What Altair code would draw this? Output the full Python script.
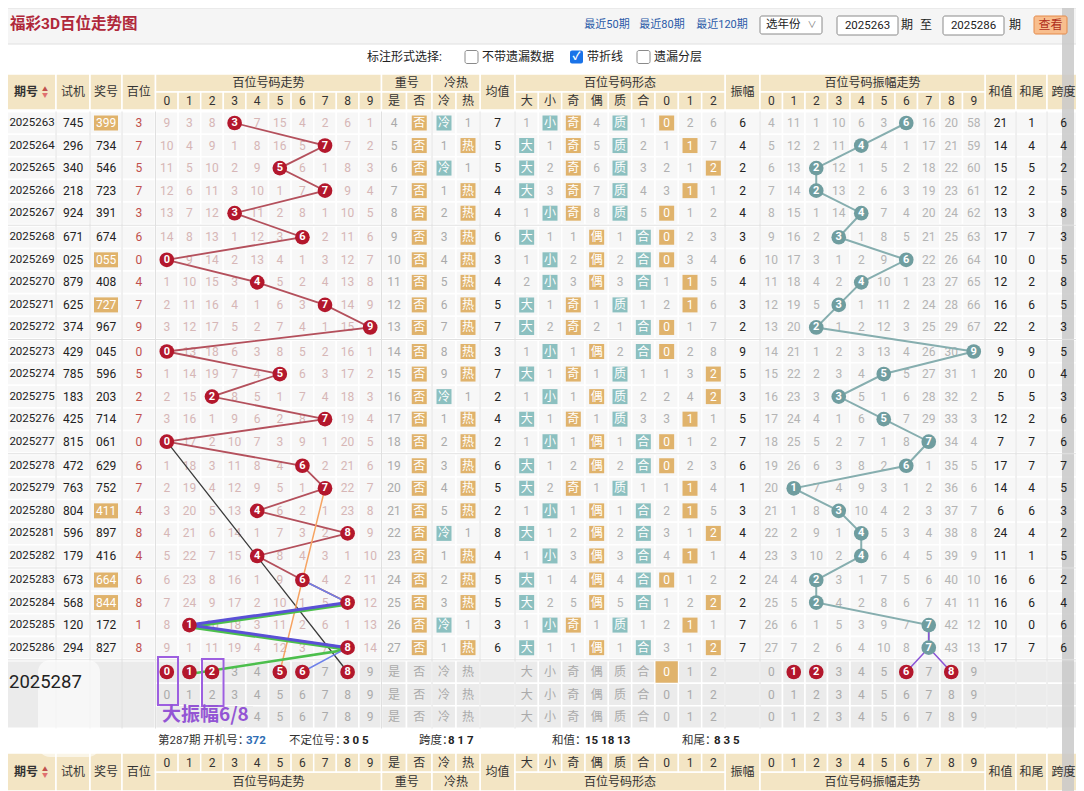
import altair as alt
import pandas as pd

# ---------------- data ----------------
periods = ["2025263", "2025264", "2025265", "2025266", "2025267", "2025268", "2025269", "2025270",
           "2025271", "2025272", "2025273", "2025274", "2025275", "2025276", "2025277", "2025278",
           "2025279", "2025280", "2025281", "2025282", "2025283", "2025284", "2025285", "2025286"]
test_nums = ["745", "296", "340", "218", "924", "671", "025", "879", "625", "374", "429", "785",
             "183", "425", "815", "472", "763", "804", "596", "179", "673", "568", "120", "294"]
draw_nums = ["399", "734", "546", "723", "391", "674", "055", "408", "727", "967", "045", "596",
             "203", "714", "061", "629", "752", "411", "897", "416", "664", "844", "172", "827"]
highlight_draws = ["399", "055", "727", "411", "664", "844"]
hundreds = [3, 7, 5, 7, 3, 6, 0, 4, 7, 9, 0, 5, 2, 7, 0, 6, 7, 4, 8, 4, 6, 8, 1, 8]
trend_omit = [
    "9 3 8 3 7 15 4 2 6 1", "10 4 9 1 8 16 5 7 7 2", "11 5 10 2 9 5 6 1 8 3",
    "12 6 11 3 10 1 7 7 9 4", "13 7 12 3 11 2 8 1 10 5", "14 8 13 1 12 3 6 2 11 6",
    "0 9 14 2 13 4 1 3 12 7", "1 10 15 3 4 5 2 4 13 8", "2 11 16 4 1 6 3 7 14 9",
    "3 12 17 5 2 7 4 1 15 9", "0 13 18 6 3 8 5 2 16 1", "1 14 19 7 4 5 6 3 17 2",
    "2 15 2 8 5 1 7 4 18 3", "3 16 1 9 6 2 8 7 19 4", "0 17 2 10 7 3 9 1 20 5",
    "1 18 3 11 8 4 6 2 21 6", "2 19 4 12 9 5 1 7 22 7", "3 20 5 13 4 6 2 1 23 8",
    "4 21 6 14 1 7 3 2 8 9", "5 22 7 15 4 8 4 3 1 10", "6 23 8 16 1 9 6 4 2 11",
    "7 24 9 17 2 10 1 5 8 12", "8 1 10 18 3 11 2 6 1 13", "9 1 11 19 4 12 3 7 8 14"]
repeat_yes = [4, 5, 6, 7, 8, 9, 10, 11, 12, 13, 14, 15, 16, 17, 18, 19, 20, 21, 22, 23, 24, 25, 26, 27]
cold_vals = ["冷", "1", "冷", "1", "2", "3", "4", "5", "6", "7", "8", "9",
             "冷", "1", "2", "3", "4", "5", "冷", "1", "2", "3", "冷", "1"]
hot_vals = ["1", "热", "1", "热", "热", "热", "热", "热", "热", "热", "热", "热",
            "1", "热", "热", "热", "热", "热", "1", "热", "热", "热", "1", "热"]
mean_vals = [7, 5, 5, 4, 4, 6, 3, 4, 5, 7, 3, 7, 2, 4, 2, 6, 5, 2, 8, 4, 5, 5, 3, 6]
shape_rows = [
    "1 小* 奇* 4 质* 1 0* 2 6", "大* 1 奇* 5 质* 2 1 1* 7", "大* 2 奇* 6 质* 3 2 1 2*",
    "大* 3 奇* 7 质* 4 3 1* 1", "1 小* 奇* 8 质* 5 0* 1 2", "大* 1 1 偶* 1 合* 0* 2 3",
    "1 小* 2 偶* 2 合* 0* 3 4", "2 小* 3 偶* 3 合* 1 1* 5", "大* 1 奇* 1 质* 1 2 1* 6",
    "大* 2 奇* 2 1 合* 0* 1 7", "1 小* 1 偶* 2 合* 0* 2 8", "大* 1 奇* 1 质* 1 1 3 2*",
    "1 小* 1 偶* 质* 2 2 4 2*", "大* 1 奇* 1 质* 3 3 1* 1", "1 小* 1 偶* 1 合* 0* 1 2",
    "大* 1 2 偶* 2 合* 0* 2 3", "大* 2 奇* 1 质* 1 1 1* 4", "1 小* 1 偶* 1 合* 2 1* 5",
    "大* 1 2 偶* 2 合* 3 1 2*", "1 小* 3 偶* 3 合* 4 1* 1", "大* 1 4 偶* 4 合* 0* 1 2",
    "大* 2 5 偶* 5 合* 1 2 2*", "1 小* 奇* 1 质* 1 2 1* 1", "大* 1 1 偶* 1 合* 3 1 2*"]
amp_vals = [6, 4, 2, 2, 4, 3, 6, 4, 3, 2, 9, 5, 3, 5, 7, 6, 1, 3, 4, 4, 2, 2, 7, 7]
amp_omit = [
    "4 11 1 10 6 3 6 16 20 58", "5 12 2 11 4 4 1 17 21 59", "6 13 2 12 1 5 2 18 22 60",
    "7 14 2 13 2 6 3 19 23 61", "8 15 1 14 4 7 4 20 24 62", "9 16 2 3 1 8 5 21 25 63",
    "10 17 3 1 2 9 6 22 26 64", "11 18 4 2 4 10 1 23 27 65", "12 19 5 3 1 11 2 24 28 66",
    "13 20 2 1 2 12 3 25 29 67", "14 21 1 2 3 13 4 26 30 9", "15 22 2 3 4 5 5 27 31 1",
    "16 23 3 3 5 1 6 28 32 2", "17 24 4 1 6 5 7 29 33 3", "18 25 5 2 7 1 8 7 34 4",
    "19 26 6 3 8 2 6 1 35 5", "20 1 7 4 9 3 1 2 36 6", "21 1 8 3 10 4 2 3 37 7",
    "22 2 9 1 4 5 3 4 38 8", "23 3 10 2 4 6 4 5 39 9", "24 4 2 3 1 7 5 6 40 10",
    "25 5 2 4 2 8 6 7 41 11", "26 6 1 5 3 9 7 7 42 12", "27 7 2 6 4 10 8 7 43 13"]
sum_vals = [21, 14, 15, 12, 13, 17, 10, 12, 16, 22, 9, 20, 5, 12, 7, 17, 14, 6, 24, 11, 16, 16, 10, 17]
sum_tail = [1, 4, 5, 2, 3, 7, 0, 2, 6, 2, 9, 0, 5, 2, 7, 7, 4, 6, 4, 1, 6, 6, 0, 7]
span_vals = [6, 4, 2, 5, 8, 3, 5, 8, 5, 3, 5, 4, 3, 6, 6, 7, 5, 3, 2, 5, 2, 4, 6, 6]

next_period = "2025287"
pred_trend_hits = [0, 1, 2, 5, 6, 8]
pred_amp_hits = [1, 2, 6, 8]
pred_shape_hit = 6
digits = ["0", "1", "2", "3", "4", "5", "6", "7", "8", "9"]
shape_labels = ["大", "小", "奇", "偶", "质", "合", "0", "1", "2"]
# annotation lines: (id, colour, width, offset, [(row, section, digit), ...])
extra_lines = [
    ("black", "#3c3c3c", 1.3, 0, [(14, "t", 0), (24, "t", 8)]),
    ("orange", "#f6a463", 1.5, 0, [(16, "t", 7), (24, "t", 5)]),
    ("blueA", "#6d80ea", 1.5, 0, [(20, "t", 6), (21, "t", 8)]),
    ("green", "#4cbf4c", 2.6, 2, [(21, "t", 8), (22, "t", 1), (23, "t", 8), (24, "t", 1)]),
    ("blueB", "#5a50d6", 3.0, 0, [(21, "t", 8), (22, "t", 1), (23, "t", 8)]),
    ("blueC", "#6d80ea", 1.5, 0, [(23, "t", 8), (24, "t", 6)]),
    ("purA", "#8b55d6", 1.5, 0, [(22, "a", 7), (23, "a", 7)]),
    ("purB", "#8b55d6", 1.5, 0, [(23, "a", 7), (24, "a", 6)]),
    ("purC", "#8b55d6", 1.5, 0, [(23, "a", 7), (24, "a", 8)]),
]

# ---------------- layout ----------------
W, H = 1068, 783
XS = alt.Scale(domain=[8, 1076], nice=False, zero=False)
YS = alt.Scale(domain=[8, 791], nice=False, zero=False, reverse=True)
FONT = "Roboto, 'Noto Sans CJK SC', sans-serif"
CJK = "'Noto Sans CJK SC', sans-serif"

DARK = "#222222"
HEAD_TXT = "#333333"
GRAY = "#aaaaaa"
PINK = "#d6b6b6"
RED_TXT = "#c0504d"
RED = "#b3172c"
TEAL_C = "#6f9d9f"
TEAL_L = "#86aeaf"
MAIN_L = "#b4505c"
ORANGE = "#e0b36c"
TEAL = "#8cc0c0"
BEIGE = "#f3e5c4"
CELL = "#f7f7f7"
PRED_BG = "#ebebeb"

COL = {"period": (0, 56), "test": (56, 90), "draw": (90, 122), "hund": (122, 155.5)}
for d in range(10):
    COL[("t", d)] = (155.5 + 22.6 * d, 155.5 + 22.6 * (d + 1))
COL[("r", 0)] = (381.5, 406.5)
COL[("r", 1)] = (406.5, 432)
COL[("c", 0)] = (432, 456)
COL[("c", 1)] = (456, 480)
COL["mean"] = (480, 515)
for k in range(9):
    COL[("s", k)] = (515 + 210 / 9 * k, 515 + 210 / 9 * (k + 1))
COL["amp"] = (725, 760)
for d in range(10):
    COL[("a", d)] = (760 + 22.5 * d, 760 + 22.5 * (d + 1))
COL["sum"] = (985, 1016)
COL["tail"] = (1016, 1047)
COL["span"] = (1047, 1080)


def cx(k):
    l, r = COL[k]
    return (l + r) / 2


HALF = 11.25
PRED = [672, 694.5, 717]


def rc(i):
    if i >= 24:
        return PRED[i - 24]
    return 123 + 22.55 * i + 1.5 * (i // 5)


data_keys = (["period", "test", "draw", "hund"] + [("t", d) for d in range(10)]
             + [("r", 0), ("r", 1), ("c", 0), ("c", 1), "mean"] + [("s", k) for k in range(9)]
             + ["amp"] + [("a", d) for d in range(10)] + ["sum", "tail", "span"])
two_row = [("period", "期号"), ("test", "试机"), ("draw", "奖号"), ("hund", "百位"), ("mean", "均值"),
           ("amp", "振幅"), ("sum", "和值"), ("tail", "和尾"), ("span", "跨度")]
groups = [((155.5, 381.5), "百位号码走势"), ((381.5, 432), "重号"), ((432, 480), "冷热"),
          ((515, 725), "百位号码形态"), ((760, 985), "百位号码振幅走势")]
subcols = ([(("t", d), digits[d]) for d in range(10)] + [(("r", 0), "是"), (("r", 1), "否"),
           (("c", 0), "冷"), (("c", 1), "热")] + [(("s", k), shape_labels[k]) for k in range(9)]
           + [(("a", d), digits[d]) for d in range(10)])

# ---------------- build tables ----------------
cells, boxes, T, TB, TL, TLB = [], [], [], [], [], []
red_c, teal_c, circ_lab = [], [], []


def box(k, y, col, hw=7.5):
    c = cx(k)
    boxes.append((c - hw, c + hw, y - hw, y + hw, col))


for i in range(24):
    y = rc(i)
    for k in data_keys:
        l, r = COL[k]
        cells.append((l, r, y - HALF, y + HALF, CELL))
    T.append((32, y, periods[i], DARK, 11.5))
    T.append((cx("test"), y, test_nums[i], DARK, 12))
    if draw_nums[i] in highlight_draws:
        boxes.append((94, 118, y - 7.5, y + 7.5, ORANGE))
        T.append((cx("draw"), y, draw_nums[i], "white", 12))
    else:
        T.append((cx("draw"), y, draw_nums[i], DARK, 12))
    T.append((cx("hund"), y, str(hundreds[i]), RED_TXT, 12))
    vals = trend_omit[i].split()
    for d in range(10):
        if d == hundreds[i]:
            red_c.append((cx(("t", d)), y, RED))
            circ_lab.append((cx(("t", d)), y, vals[d], "white", 11))
        else:
            T.append((cx(("t", d)), y, vals[d], PINK, 12))
    T.append((cx(("r", 0)), y, str(repeat_yes[i]), GRAY, 12))
    box(("r", 1), y, ORANGE)
    T.append((cx(("r", 1)), y, "否", "white", 12))
    if cold_vals[i] == "冷":
        box(("c", 0), y, TEAL)
        T.append((cx(("c", 0)), y, "冷", "white", 12))
    else:
        T.append((cx(("c", 0)), y, cold_vals[i], GRAY, 12))
    if hot_vals[i] == "热":
        box(("c", 1), y, ORANGE)
        T.append((cx(("c", 1)), y, "热", "white", 12))
    else:
        T.append((cx(("c", 1)), y, hot_vals[i], GRAY, 12))
    T.append((cx("mean"), y, str(mean_vals[i]), DARK, 12))
    for k, tok in enumerate(shape_rows[i].split()):
        if tok.endswith("*"):
            box(("s", k), y, TEAL if k in (0, 1, 4, 5) else ORANGE)
            T.append((cx(("s", k)), y, tok[:-1], "white", 12))
        else:
            T.append((cx(("s", k)), y, tok, "#b0b0b0", 12))
    T.append((cx("amp"), y, str(amp_vals[i]), DARK, 12))
    av = amp_omit[i].split()
    for d in range(10):
        if d == amp_vals[i]:
            teal_c.append((cx(("a", d)), y, TEAL_C))
            circ_lab.append((cx(("a", d)), y, av[d], "white", 11))
        else:
            T.append((cx(("a", d)), y, av[d], "#b4b4b4", 12))
    T.append((cx("sum"), y, str(sum_vals[i]), DARK, 12))
    T.append((cx("tail"), y, str(sum_tail[i]), DARK, 12))
    T.append((cx("span"), y, str(span_vals[i]), DARK, 12))

# predicted rows
cells.append((0, 155.5, PRED[0] - HALF, PRED[2] + HALF, PRED_BG))
for j in range(3):
    y = PRED[j]
    for k in data_keys[4:]:
        l, r = COL[k]
        cells.append((l, r, y - HALF, y + HALF, PRED_BG))
    for d in range(10):
        if j == 0 and d in pred_trend_hits:
            red_c.append((cx(("t", d)), y, RED))
            circ_lab.append((cx(("t", d)), y, digits[d], "white", 11))
        else:
            T.append((cx(("t", d)), y, digits[d], GRAY, 12))
        if j == 0 and d in pred_amp_hits:
            red_c.append((cx(("a", d)), y, RED))
            circ_lab.append((cx(("a", d)), y, digits[d], "white", 11))
        else:
            T.append((cx(("a", d)), y, digits[d], GRAY, 12))
    for k, lab in [(("r", 0), "是"), (("r", 1), "否"), (("c", 0), "冷"), (("c", 1), "热")]:
        T.append((cx(k), y, lab, GRAY, 12))
    for k in range(9):
        if j == 0 and k == pred_shape_hit:
            l, r = COL[("s", k)]
            boxes.append((l + 0.5, r - 0.5, y - HALF + 0.5, y + HALF - 0.5, ORANGE))
            T.append((cx(("s", k)), y, shape_labels[k], "white", 12))
        else:
            T.append((cx(("s", k)), y, shape_labels[k], GRAY, 12))
TL.append((9, 682, next_period, DARK, 18.5))

# header & footer
head = []
for top, y_two, y_g, y_s in [(True, (74, 110), (74, 92), (92, 110)), (False, (753, 791), (772, 791), (753, 772))]:
    for k, lab in two_row:
        l, r = COL[k]
        head.append((l, r, y_two[0], y_two[1], BEIGE))
        if k == "period":
            TB.append((26, (y_two[0] + y_two[1]) / 2, lab, HEAD_TXT, 12))
            T.append((45, (y_two[0] + y_two[1]) / 2 - 3, "▲", "#c0504d", 6))
            T.append((45, (y_two[0] + y_two[1]) / 2 + 3, "▼", "#e07070", 6))
        else:
            T.append(((l + r) / 2, (y_two[0] + y_two[1]) / 2, lab, HEAD_TXT, 12))
    for (l, r), lab in groups:
        head.append((l, r, y_g[0], y_g[1], BEIGE))
        T.append(((l + r) / 2, (y_g[0] + y_g[1]) / 2, lab, HEAD_TXT, 12))
    for k, lab in subcols:
        l, r = COL[k]
        head.append((l, r, y_s[0], y_s[1], BEIGE))
        T.append(((l + r) / 2, (y_s[0] + y_s[1]) / 2, lab, HEAD_TXT, 12))

# info line
TL += [(158, 741, "第287期 开机号：", HEAD_TXT, 11.5), (289, 741, "不定位号：", HEAD_TXT, 11.5),
       (419, 741, "跨度：", HEAD_TXT, 11.5), (552, 741, "和值：", HEAD_TXT, 11.5),
       (682, 741, "和尾：", HEAD_TXT, 11.5)]
TLB += [(246, 741, "372", "#2e6db4", 11.5), (343, 741, "3 0 5", DARK, 11.5),
        (448, 741, "8 1 7", DARK, 11.5), (585, 741, "15 18 13", DARK, 11.5),
        (714, 741, "8 3 5", DARK, 11.5)]

# top controls
TLB.append((10, 24, "福彩3D百位走势图", "#b0283a", 15.5))
T += [(607, 25, "最近50期", "#2b5aa8", 11), (662, 25, "最近80期", "#2b5aa8", 11),
      (722, 25, "最近120期", "#2b5aa8", 11), (867.5, 25.5, "2025263", DARK, 11.5),
      (907, 25, "期", DARK, 12), (926, 25, "至", DARK, 12), (973.5, 25.5, "2025286", DARK, 11.5),
      (1015, 25, "期", DARK, 12), (1050.5, 25, "查看", "#b03020", 12), (812, 25, "∨", "#777777", 9)]
TL += [(766, 25, "选年份", DARK, 11.5), (367, 57, "标注形式选择:", DARK, 12),
       (482, 57, "不带遗漏数据", DARK, 12), (587, 57, "带折线", DARK, 12), (654, 57, "遗漏分层", DARK, 12)]
TB.append((576.5, 57, "✓", "white", 11))

# separators
seps = []
for xv in [56, 90, 122, 155.5, 381.5, 432, 480, 515, 725, 760, 985, 1016, 1047]:
    seps.append((xv, xv, 111.5, 728.5))
for i in [4, 9, 14, 19, 23]:
    yv = (rc(i) + HALF + rc(i + 1) - HALF) / 2
    seps.append((0, 1080, yv, yv))

# lines
line_rows = []
for i in range(24):
    line_rows.append((cx(("t", hundreds[i])), rc(i), "main", i, MAIN_L, 1.8))
    line_rows.append((cx(("a", amp_vals[i])), rc(i), "teal", i, TEAL_L, 2.0))
for sid, col, w, off, pts in extra_lines:
    for o, (ri, sec, d) in enumerate(pts):
        line_rows.append((cx((sec, d)), rc(ri) + off, sid, o, col, w))


# ---------------- chart helpers ----------------
def X():
    return alt.X("x:Q", scale=XS, axis=None)


def Y():
    return alt.Y("y:Q", scale=YS, axis=None)


def rect_layer(rows, **mk):
    df = pd.DataFrame(rows, columns=["x", "x2", "y", "y2", "c"])
    return alt.Chart(df).mark_rect(**mk).encode(
        x=X(), x2="x2:Q", y=Y(), y2="y2:Q", color=alt.Color("c:N", scale=None))


def text_layer(rows, **mk):
    df = pd.DataFrame(rows, columns=["x", "y", "t", "c", "s"])
    return alt.Chart(df).mark_text(**mk).encode(
        x=X(), y=Y(), text="t:N", color=alt.Color("c:N", scale=None), size=alt.Size("s:Q", scale=None))


def circle_layer(rows, size):
    df = pd.DataFrame(rows, columns=["x", "y", "c"])
    return alt.Chart(df).mark_circle(size=size, opacity=1).encode(
        x=X(), y=Y(), color=alt.Color("c:N", scale=None))


band = rect_layer([(0, 1084, 8, 44, "#f5f5f5")], stroke="#e0e0e0", strokeWidth=1)
cell_l = rect_layer(cells + head, stroke="white", strokeWidth=1.5)
scroll = rect_layer([(1062, 1074, 0, 791, "#c9c9c9")], opacity=0.85)
box_l = rect_layer(boxes)
sep_df = pd.DataFrame(seps, columns=["x", "x2", "y", "y2"])
sep_l = alt.Chart(sep_df).mark_rule(color="#e0e0e0", strokeWidth=1).encode(x=X(), x2="x2:Q", y=Y(), y2="y2:Q")
ctrl_white = rect_layer([(760, 822, 16, 34, "white"), (837, 898, 16, 35, "white"), (943, 1004, 16, 35, "white"),
                         (465, 478, 50.5, 63.5, "white"), (637, 650, 50.5, 63.5, "white")],
                        stroke="#8a8a8a", strokeWidth=1, cornerRadius=2)
ctrl_blue = rect_layer([(570, 583, 50.5, 63.5, "#1a73e8")], cornerRadius=2)
ctrl_btn = rect_layer([(1034, 1067, 16, 34, "#f8be8e")], stroke="#e48a4a", strokeWidth=1, cornerRadius=2)

lines_df = pd.DataFrame(line_rows, columns=["x", "y", "sid", "o", "c", "w"])
lines_l = alt.Chart(lines_df).mark_line(strokeCap="round").encode(
    x=X(), y=Y(), detail="sid:N", order="o:Q",
    color=alt.Color("c:N", scale=None), strokeWidth=alt.StrokeWidth("w:Q", scale=None))

text_norm = text_layer(T, font=FONT, align="center", baseline="middle")
text_bold = text_layer(TB, font=FONT, align="center", baseline="middle", fontWeight="bold")
text_left = text_layer(TL, font=FONT, align="left", baseline="middle")
text_left_b = text_layer(TLB, font=FONT, align="left", baseline="middle", fontWeight="bold")
red_l = circle_layer(red_c, 215)
teal_l = circle_layer(teal_c, 215)
lab_l = text_layer(circ_lab, font=FONT, align="center", baseline="middle", fontWeight="bold")

ann_bg = rect_layer([(160, 253, 706, 727, PRED_BG)])
ann_rect = rect_layer([(158, 178, 657, 705, "#9d5fe0"), (202, 223.5, 659, 706, "#9d5fe0")],
                      filled=False, strokeWidth=2)
ann_txt = text_layer([(162, 715, "大振幅6/8", "#9355d4", 19)], font=CJK, align="left",
                     baseline="middle", fontWeight="bold")
blob = rect_layer([(38, 100, 660, 757, "white")], opacity=0.6, cornerRadius=12)

chart = alt.layer(
    band, cell_l, scroll, sep_l, box_l, blob, ctrl_white, ctrl_blue, ctrl_btn,
    text_norm, text_left, text_left_b, text_bold,
    lines_l, red_l, teal_l, lab_l,
    ann_bg, ann_rect, ann_txt,
).properties(
    width=W, height=H, padding=0, autosize=alt.AutoSizeParams(type="none"),
    background="white"
).configure_view(stroke=None)

chart.save("out.html", embed_options={"renderer": "svg", "actions": False})
